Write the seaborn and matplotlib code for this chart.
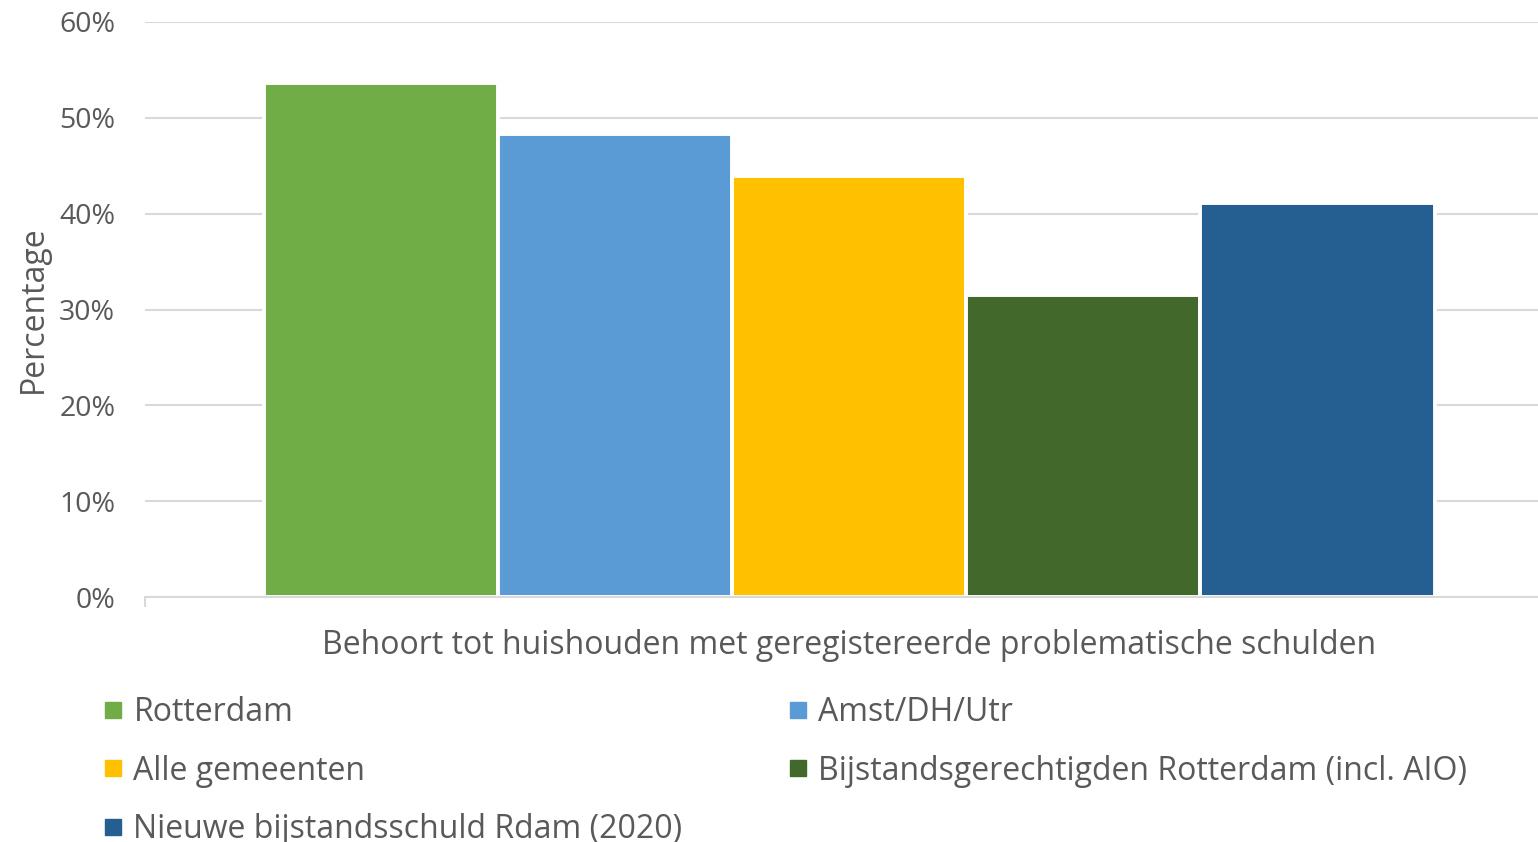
import matplotlib
matplotlib.use("Agg")
import matplotlib.pyplot as plt
import seaborn as sns
import pandas as pd
from matplotlib.lines import Line2D
from matplotlib.ticker import PercentFormatter

category = ["Behoort tot huishouden met geregistereerde problematische schulden"]
series = ["Rotterdam", "Amst/DH/Utr", "Alle gemeenten",
          "Bijstandsgerechtigden Rotterdam (incl. AIO)", "Nieuwe bijstandsschuld Rdam (2020)"]
values = [53.6, 48.3, 43.9, 31.5, 41.1]
colors = ["#70AD47", "#5B9BD5", "#FFC000", "#43682B", "#255E91"]
yticks = [0, 10, 20, 30, 40, 50, 60]

df = pd.DataFrame({"cat": category * len(series), "series": series, "value": values})

sns.set_theme(style="white")
plt.rcParams['font.family'] = ['Open Sans', 'DejaVu Sans']
txt = "#595959"

fig = plt.figure(figsize=(15.38, 8.42), dpi=100)
ax = fig.add_axes([145/1538, 1 - 597/842, 1 - 145/1538, (597 - 22)/842])

sns.barplot(data=df, x="cat", y="value", hue="series", hue_order=series,
            palette=colors, width=0.84, edgecolor="white", linewidth=2.8,
            ax=ax, legend=False, errorbar=None, saturation=1)

xmin = -0.5057
ax.set_xlim(xmin, 0.4943)
ax.set_ylim(0, 60)
ax.set_yticks(yticks)
ax.yaxis.set_major_formatter(PercentFormatter(decimals=0))
ax.grid(axis="y", color="#D9D9D9", linewidth=1.5)
ax.set_axisbelow(True)
for s in ["left", "right", "top"]:
    ax.spines[s].set_visible(False)
ax.spines["bottom"].set_color("#D9D9D9")
ax.spines["bottom"].set_linewidth(1.5)
ax.set_xticks([xmin], minor=True)
ax.tick_params(axis="x", which="minor", length=7, width=1.5, color="#D9D9D9", bottom=True)
ax.tick_params(axis="y", length=0, pad=21.5, labelsize=20.5, labelcolor=txt)
ax.tick_params(axis="x", which="major", length=0, pad=23, labelsize=23, labelcolor=txt)
ax.set_xlabel("")
ax.set_ylabel("Percentage", fontsize=23, color=txt)
ax.yaxis.set_label_coords(-0.0685, 0.5)

order = [0, 2, 4, 1, 3]
handles = [Line2D([0], [0], marker="s", linestyle="none", markersize=11,
                  markerfacecolor=colors[i], markeredgecolor=colors[i]) for i in order]
labels = [series[i] for i in order]
fig.legend(handles, labels, loc="upper left", bbox_to_anchor=(0.067, 0.1734),
           ncol=2, frameon=False, fontsize=23, labelcolor=txt,
           handlelength=0.6, handletextpad=0.35, columnspacing=3.3,
           labelspacing=0.8, borderaxespad=0, borderpad=0)

fig.savefig("out.png", dpi=100)
